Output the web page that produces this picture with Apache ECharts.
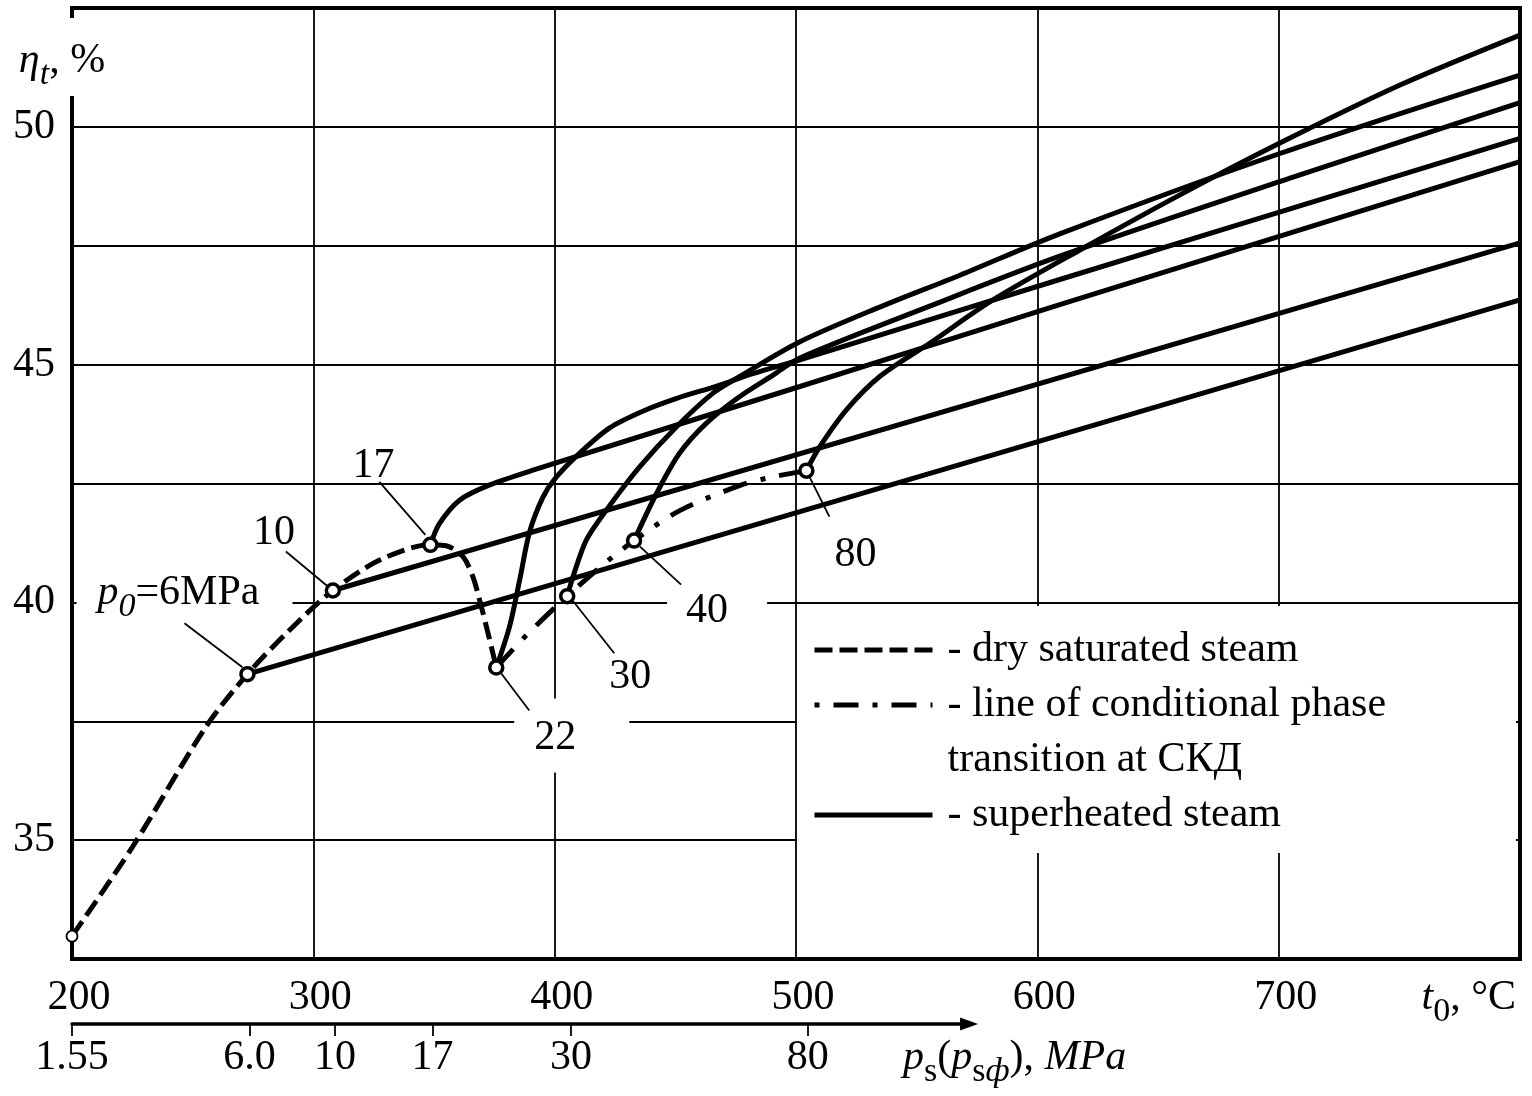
<!DOCTYPE html>
<html>
<head>
<meta charset="utf-8">
<title>Thermal efficiency vs initial steam temperature</title>
<script src="https://cdn.jsdelivr.net/npm/echarts@6.0.0/dist/echarts.min.js"></script>
<style>
  html, body { margin: 0; padding: 0; background: #fff; }
  #chart { width: 1532px; height: 1096px; }
</style>
</head>
<body>
<div id="chart"></div>
<script>
// [t0 in °C, eta_t in %]
const drySaturated = [[200, 32.98], [225.1, 34.86], [255.6, 37.39], [272.7, 38.49], [290.2, 39.42], [308.1, 40.25],
  [327.5, 40.89], [348.5, 41.21], [355.1, 41.19], [362, 40.96], [366.1, 40.54], [369.6, 39.91], [372.4, 39.35],
  [374.4, 38.93], [375.8, 38.63]]
const phaseTransition = [[375.8, 38.63], [388.3, 39.31], [405.2, 40.13], [420, 40.79], [432.9, 41.3], [451.8, 41.93],
  [477.4, 42.47], [490.5, 42.64], [504.3, 42.77]]

// superheated steam, one line for each initial pressure
const sh6 = [[272.7, 38.49], [800, 46.36]]
const sh10 = [[308.1, 40.25], [800, 47.56]]
const sh17 = [[348.5, 41.21], [352.3, 41.66], [360.6, 42.15], [373.1, 42.47], [391, 42.78], [501.6, 44.54],
  [609.3, 46.26], [800, 49.27]]
const sh22 = [[375.8, 38.63], [381.3, 39.49], [385.5, 40.47], [389.6, 41.48], [395.2, 42.22], [400.4, 42.62],
  [410.8, 43.16], [422.8, 43.67], [436.5, 44.02], [450.6, 44.29], [467.2, 44.55], [482.1, 44.81], [501.6, 45.1],
  [609.3, 46.79], [800, 49.76]]
const sh30 = [[405.2, 40.13], [407.6, 40.54], [413.1, 41.31], [421.4, 41.94], [435.2, 42.85], [450.4, 43.69],
  [465.6, 44.4], [476.7, 44.75], [501.6, 45.48], [534.7, 46.21], [567.9, 46.88], [609.3, 47.75], [700.5, 49.44],
  [800, 51.09]]
const sh40 = [[432.9, 41.3], [442.2, 42.29], [451.8, 43.14], [462.9, 43.77], [476.7, 44.33], [490.5, 44.78],
  [501.6, 45.14], [555.4, 46.23], [609.3, 47.28], [704.7, 48.92], [800, 50.51]]
const sh80 = [[504.3, 42.77], [509.8, 43.27], [520.9, 44.05], [534.7, 44.75], [555.4, 45.45], [581.6, 46.36],
  [617.6, 47.41], [659.1, 48.57], [700.5, 49.66], [750.3, 50.88], [800, 51.93]]

// marked states (pressure in MPa)
const statePressure = ['6', '10', '17', '22', '30', '40', '80']
const stateT = [272.7, 308.1, 348.5, 375.8, 405.2, 432.9, 504.3]
const stateEta = [38.49, 40.25, 41.21, 38.63, 40.13, 41.3, 42.77]
const startPoint = [200, 32.98]

// pressure scale under the temperature axis
const pressureLabels = ['1.55', '6.0', '10', '17', '30', '80']
const pressureAt = [200, 273.6, 309.0, 349.4, 406.8, 504.9]

const tMin = 200, tMax = 800, tStep = 100
const etaMin = 32.5, etaMax = 52.5, etaStep = 2.5
const pressureAxisEnd = 571.7

// callout placement in px relative to the point: leader [x1,y1,x2,y2], text centre, white box
const calloutLayout = [
  { line: [-5, -7, -63, -51], text: [-69, -81], box: [-171, -98, 216, 38] },
  { line: [-5, -4, -47, -39], text: [-59, -58] },
  { line: [-5, -10, -51, -63], text: [-57, -79] },
  { line: [5, 6, 33, 43], text: [59, 70], box: [18, 31, 115, 74] },
  { line: [6, 5, 47, 57], text: [63, 81] },
  { line: [6, 6, 47, 44], text: [73, 70], box: [33, 46, 100, 44] },
  { line: [3, 6, 23, 46], text: [49, 84] }
]

const serif = '"Liberation Serif", "Times New Roman", serif'
const fs = 42
const rich = {
  n: { fontFamily: serif, fontSize: fs, lineHeight: fs, color: '#000' },
  i: { fontFamily: serif, fontSize: fs, lineHeight: fs, fontStyle: 'italic', color: '#000' },
  sub: { fontFamily: serif, fontSize: 34, lineHeight: 20, verticalAlign: 'top', padding: [18, 0, 0, 0], color: '#000' },
  isub: { fontFamily: serif, fontSize: 34, lineHeight: 20, verticalAlign: 'top', padding: [18, 0, 0, 0], fontStyle: 'italic', color: '#000' }
}
// same styles for raw zrender text in the custom series
const zrRich = {}
Object.keys(rich).forEach(k => { zrRich[k] = Object.assign({}, rich[k], { fill: '#000' }) })

function calloutText(i) {
  if (i === 0) return '{i|p}{isub|0}{n|=' + statePressure[0] + 'MPa}'
  return statePressure[i]
}

const solid = { color: '#000', width: 5 }
function curve(name, data, lineStyle) {
  return {
    type: 'line', name: name, data: data, symbol: 'none', smooth: 0.3,
    lineStyle: lineStyle, itemStyle: { color: '#000' }, silent: true, z: 3
  }
}

const plotWidth = 1448
const chart = echarts.init(document.getElementById('chart'))
chart.setOption({
  animation: false,
  backgroundColor: '#fff',
  textStyle: { fontFamily: serif, color: '#000' },
  grid: [
    { left: 72, right: 12, top: 8, bottom: 137, show: true, borderColor: '#000', borderWidth: 4, backgroundColor: 'transparent', outerBoundsMode: 'none' },
    { left: 72, top: 1000, height: 24, width: (pressureAxisEnd - tMin) / (tMax - tMin) * plotWidth, outerBoundsMode: 'none' }
  ],
  legend: {
    orient: 'vertical',
    left: 797,
    top: 606,
    padding: [18, 130, 12, 15],
    itemWidth: 118,
    itemHeight: 14,
    itemGap: 3,
    backgroundColor: '#fff',
    selectedMode: false,
    itemStyle: { opacity: 0 },
    lineStyle: { width: 5 },
    textStyle: { fontFamily: serif, fontSize: fs, lineHeight: 52, color: '#000', padding: [0, 0, 0, 10] },
    formatter: name => name === 'transition at СКД' ? name : '- ' + name,
    data: [
      { name: 'dry saturated steam' },
      { name: 'line of conditional phase', lineStyle: { dashOffset: 39 } },
      { name: 'transition at СКД', icon: 'none' },
      { name: 'superheated steam' }
    ]
  },
  xAxis: [
    {
      type: 'value', gridIndex: 0, position: 'bottom', min: tMin, max: tMax, interval: tStep,
      axisLine: { show: true, onZero: false, lineStyle: { color: '#000', width: 4 } },
      axisTick: { show: false },
      splitLine: { show: true, showMinLine: false, showMaxLine: false, lineStyle: { color: '#000', width: 1.8 } },
      axisLabel: {
        color: '#000', fontFamily: serif, fontSize: fs, lineHeight: fs, margin: 18, padding: [0, 0, 0, 14],
        formatter: v => v === tMax ? '' : String(v)
      },
      name: '{i|t}{sub|0}{n|, °C}',
      nameLocation: 'end',
      nameGap: -4,
      nameMoveOverlap: false,
      nameTextStyle: { align: 'right', verticalAlign: 'top', padding: [18, 0, 0, 0], rich: rich }
    },
    {
      type: 'value', gridIndex: 1, position: 'bottom', min: tMin, max: pressureAxisEnd,
      axisLine: {
        show: true, onZero: false, symbol: ['none', 'triangle'], symbolSize: [13, 18],
        lineStyle: { color: '#000', width: 3.5 }
      },
      axisTick: { show: true, customValues: pressureAt, length: 12, lineStyle: { color: '#000', width: 1.8 } },
      splitLine: { show: false },
      axisLabel: {
        customValues: pressureAt, color: '#000', fontFamily: serif, fontSize: fs, lineHeight: fs, margin: 13,
        formatter: v => {
          const k = pressureAt.indexOf(v)
          return k < 0 ? '' : pressureLabels[k]
        }
      },
      name: '{i|p}{sub|s}{n|(}{i|p}{sub|s}{isub|ф}{n|), }{i|MPa}',
      nameLocation: 'end',
      nameGap: -66,
      nameMoveOverlap: false,
      nameTextStyle: { align: 'left', verticalAlign: 'top', padding: [13, 0, 0, 0], rich: rich }
    }
  ],
  yAxis: [
    {
      type: 'value', gridIndex: 0, position: 'left', min: etaMin, max: etaMax, interval: etaStep,
      axisLine: { show: false },
      axisTick: { show: false },
      splitLine: { show: true, showMinLine: false, showMaxLine: false, lineStyle: { color: '#000', width: 1.8 } },
      axisLabel: {
        color: '#000', fontFamily: serif, fontSize: fs, margin: 17,
        formatter: v => v % 5 === 0 ? String(v) : ''
      },
      name: '{i|η}{isub|t}{n|, %}',
      nameLocation: 'end',
      nameGap: -10,
      nameMoveOverlap: false,
      nameTextStyle: { align: 'center', verticalAlign: 'top', backgroundColor: '#fff', padding: [22, 20, 14, 0], rich: rich }
    },
    { type: 'value', gridIndex: 1, show: false }
  ],
  series: [
    {
      type: 'custom',
      name: 'callouts',
      data: stateT.map((t, i) => [t, stateEta[i]]),
      encode: { x: 0, y: 1 },
      silent: true,
      clip: false,
      z: 2,
      renderItem: function (params, api) {
        const i = params.dataIndex
        const c = calloutLayout[i]
        const p = api.coord([api.value(0), api.value(1)])
        const kids = []
        if (c.box) {
          kids.push({
            type: 'rect',
            shape: { x: p[0] + c.box[0], y: p[1] + c.box[1], width: c.box[2], height: c.box[3] },
            style: { fill: '#fff' }
          })
        }
        kids.push({
          type: 'line',
          shape: { x1: p[0] + c.line[0], y1: p[1] + c.line[1], x2: p[0] + c.line[2], y2: p[1] + c.line[3] },
          style: { stroke: '#000', lineWidth: 1.8 }
        })
        kids.push({
          type: 'text',
          x: p[0] + c.text[0],
          y: p[1] + c.text[1],
          style: {
            text: calloutText(i), fontFamily: serif, fontSize: fs, fill: '#000',
            align: 'center', verticalAlign: 'middle', rich: zrRich
          }
        })
        return { type: 'group', children: kids }
      }
    },
    curve('dry saturated steam', drySaturated, { color: '#000', width: 5, type: [18, 7] }),
    curve('line of conditional phase', phaseTransition, { color: '#000', width: 5, type: [25, 14, 5, 14] }),
    curve('superheated steam', sh6, solid),
    curve('superheated steam', sh10, solid),
    curve('superheated steam', sh17, solid),
    curve('superheated steam', sh22, solid),
    curve('superheated steam', sh30, solid),
    curve('superheated steam', sh40, solid),
    curve('superheated steam', sh80, solid),
    { type: 'line', name: 'transition at СКД', data: [], symbol: 'none', lineStyle: { opacity: 0 } },
    {
      type: 'scatter',
      name: 'states',
      data: stateT.map((t, i) => [t, stateEta[i]]),
      symbol: 'circle',
      symbolSize: 13,
      itemStyle: { color: '#fff', borderColor: '#000', borderWidth: 3.5, opacity: 1 },
      silent: true,
      clip: false,
      z: 5
    },
    {
      type: 'scatter',
      name: 'start',
      data: [startPoint],
      symbol: 'circle',
      symbolSize: 11,
      itemStyle: { color: '#fff', borderColor: '#000', borderWidth: 1.8, opacity: 1 },
      silent: true,
      clip: false,
      z: 5
    }
  ]
})
</script>
</body>
</html>
